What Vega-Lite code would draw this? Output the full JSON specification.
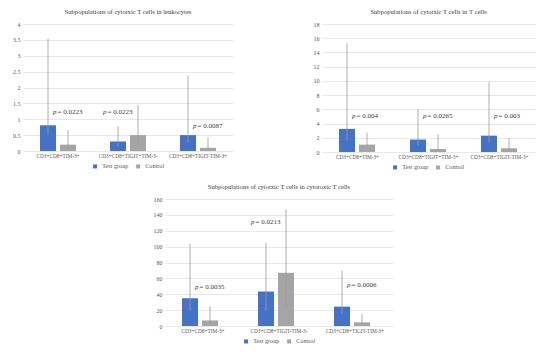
{
  "$schema": "https://vega.github.io/schema/vega-lite/v6.json",
  "padding": {"left": 12, "top": 9, "right": 5, "bottom": 5},
  "datasets": {
    "leuk": [
      {"cat": "CD3+CD8+TIM-3+", "group": "Test group", "value": 0.81, "lo": 0.5, "hi": 3.55},
      {"cat": "CD3+CD8+TIM-3+", "group": "Control", "value": 0.2, "lo": 0.08, "hi": 0.66},
      {"cat": "CD3+CD8+TIGIT+TIM-3-", "group": "Test group", "value": 0.3, "lo": 0.14, "hi": 0.78},
      {"cat": "CD3+CD8+TIGIT+TIM-3-", "group": "Control", "value": 0.5, "lo": 0.2, "hi": 1.46},
      {"cat": "CD3+CD8+TIGIT-TIM-3+", "group": "Test group", "value": 0.5, "lo": 0.26, "hi": 2.37},
      {"cat": "CD3+CD8+TIGIT-TIM-3+", "group": "Control", "value": 0.1, "lo": 0.05, "hi": 0.43}
    ],
    "leukP": [
      {"cat": "CD3+CD8+TIM-3+", "group": "Control", "py": 1.24, "p": "p", "rest": "= 0.0223"},
      {"cat": "CD3+CD8+TIGIT+TIM-3-", "group": "Test group", "py": 1.24, "p": "p", "rest": "= 0.0223"},
      {"cat": "CD3+CD8+TIGIT-TIM-3+", "group": "Control", "py": 0.78, "p": "p", "rest": "= 0.0087"}
    ],
    "tcell": [
      {"cat": "CD3+CD8+TIM-3+", "group": "Test group", "value": 3.25, "lo": 1.6, "hi": 15.3},
      {"cat": "CD3+CD8+TIM-3+", "group": "Control", "value": 1.04, "lo": 0.7, "hi": 2.7},
      {"cat": "CD3+CD8+TIGIT+TIM-3+", "group": "Test group", "value": 1.75, "lo": 0.9, "hi": 6.0},
      {"cat": "CD3+CD8+TIGIT+TIM-3+", "group": "Control", "value": 0.42, "lo": 0.2, "hi": 2.5},
      {"cat": "CD3+CD8+TIGIT-TIM-3+", "group": "Test group", "value": 2.3, "lo": 1.2, "hi": 9.8},
      {"cat": "CD3+CD8+TIGIT-TIM-3+", "group": "Control", "value": 0.52, "lo": 0.3, "hi": 2.0}
    ],
    "tcellP": [
      {"cat": "CD3+CD8+TIM-3+", "group": "Control", "py": 5.0, "p": "p", "rest": "= 0.004"},
      {"cat": "CD3+CD8+TIGIT+TIM-3+", "group": "Control", "py": 5.0, "p": "p", "rest": "= 0.0265"},
      {"cat": "CD3+CD8+TIGIT-TIM-3+", "group": "Control", "py": 5.0, "p": "p", "rest": "= 0.003"}
    ],
    "ctl": [
      {"cat": "CD3+CD8+TIM-3+", "group": "Test group", "value": 35, "lo": 19, "hi": 104},
      {"cat": "CD3+CD8+TIM-3+", "group": "Control", "value": 7, "lo": 3, "hi": 25},
      {"cat": "CD3+CD8+TIGIT-TIM-3-", "group": "Test group", "value": 43.4, "lo": 19, "hi": 105},
      {"cat": "CD3+CD8+TIGIT-TIM-3-", "group": "Control", "value": 67, "lo": 25, "hi": 147},
      {"cat": "CD3+CD8+TIGIT-TIM-3+", "group": "Test group", "value": 24.4, "lo": 15, "hi": 70},
      {"cat": "CD3+CD8+TIGIT-TIM-3+", "group": "Control", "value": 4.6, "lo": 1, "hi": 15}
    ],
    "ctlP": [
      {"cat": "CD3+CD8+TIM-3+", "group": "Control", "py": 48.7, "p": "p", "rest": "= 0.0035"},
      {"cat": "CD3+CD8+TIGIT-TIM-3-", "group": "Test group", "py": 130.6, "p": "p", "rest": "= 0.0213"},
      {"cat": "CD3+CD8+TIGIT-TIM-3+", "group": "Control", "py": 51.6, "p": "p", "rest": "= 0.0006"}
    ]
  },
  "vconcat": [
    {
      "hconcat": [
        {
          "width": 210,
          "height": 127,
          "title": "Subpopulations of cytotxic T cells in leukocytes",
          "encoding": {
            "x": {"field": "cat", "type": "nominal", "sort": null, "title": null, "scale": {"paddingInner": 0, "paddingOuter": 0}},
            "xOffset": {"field": "group", "type": "nominal", "sort": ["Test group", "Control"], "scale": {"paddingInner": 0.2, "paddingOuter": 0.85}}
          },
          "layer": [
            {
              "data": {"name": "leuk"},
              "mark": {"type": "bar"},
              "encoding": {
                "y": {"field": "value", "type": "quantitative", "title": null, "scale": {"domain": [0, 4], "nice": false}, "axis": {"values": [0, 0.5, 1, 1.5, 2, 2.5, 3, 3.5, 4], "format": "~r"}},
                "color": {"field": "group", "type": "nominal", "title": null, "scale": {"domain": ["Test group", "Control"], "range": ["#4472C4", "#A5A5A5"]}}
              }
            },
            {
              "data": {"name": "leuk"},
              "mark": {"type": "rule", "color": "#9A9A9A", "strokeWidth": 0.8},
              "encoding": {"y": {"field": "lo", "type": "quantitative", "title": null, "axis": {"values": [0, 0.5, 1, 1.5, 2, 2.5, 3, 3.5, 4], "format": "~r"}}, "y2": {"field": "hi"}}
            },
            {
              "data": {"name": "leukP"},
              "mark": {"type": "text", "align": "left", "dx": -15, "fontStyle": "italic", "fontSize": 7, "color": "#404040"},
              "encoding": {"y": {"field": "py", "type": "quantitative", "title": null, "axis": {"values": [0, 0.5, 1, 1.5, 2, 2.5, 3, 3.5, 4], "format": "~r"}}, "text": {"field": "p"}}
            },
            {
              "data": {"name": "leukP"},
              "mark": {"type": "text", "align": "left", "dx": -10.5, "fontSize": 7, "color": "#404040"},
              "encoding": {"y": {"field": "py", "type": "quantitative", "title": null, "axis": {"values": [0, 0.5, 1, 1.5, 2, 2.5, 3, 3.5, 4], "format": "~r"}}, "text": {"field": "rest"}}
            }
          ]
        },
        {
          "width": 213,
          "height": 128,
          "title": "Subpopulations of cytotxic T cells in T cells",
          "encoding": {
            "x": {"field": "cat", "type": "nominal", "sort": null, "title": null, "scale": {"paddingInner": 0, "paddingOuter": 0}},
            "xOffset": {"field": "group", "type": "nominal", "sort": ["Test group", "Control"], "scale": {"paddingInner": 0.2, "paddingOuter": 0.85}}
          },
          "layer": [
            {
              "data": {"name": "tcell"},
              "mark": {"type": "bar"},
              "encoding": {
                "y": {"field": "value", "type": "quantitative", "title": null, "scale": {"domain": [0, 18], "nice": false}, "axis": {"values": [0, 2, 4, 6, 8, 10, 12, 14, 16, 18], "format": "~r"}},
                "color": {"field": "group", "type": "nominal", "title": null, "scale": {"domain": ["Test group", "Control"], "range": ["#4472C4", "#A5A5A5"]}}
              }
            },
            {
              "data": {"name": "tcell"},
              "mark": {"type": "rule", "color": "#9A9A9A", "strokeWidth": 0.8},
              "encoding": {"y": {"field": "lo", "type": "quantitative", "title": null, "axis": {"values": [0, 2, 4, 6, 8, 10, 12, 14, 16, 18], "format": "~r"}}, "y2": {"field": "hi"}}
            },
            {
              "data": {"name": "tcellP"},
              "mark": {"type": "text", "align": "left", "dx": -15, "fontStyle": "italic", "fontSize": 7, "color": "#404040"},
              "encoding": {"y": {"field": "py", "type": "quantitative", "title": null, "axis": {"values": [0, 2, 4, 6, 8, 10, 12, 14, 16, 18], "format": "~r"}}, "text": {"field": "p"}}
            },
            {
              "data": {"name": "tcellP"},
              "mark": {"type": "text", "align": "left", "dx": -10.5, "fontSize": 7, "color": "#404040"},
              "encoding": {"y": {"field": "py", "type": "quantitative", "title": null, "axis": {"values": [0, 2, 4, 6, 8, 10, 12, 14, 16, 18], "format": "~r"}}, "text": {"field": "rest"}}
            }
          ]
        }
      ],
      "spacing": 80,
      "resolve": {"scale": {"color": "independent"}, "legend": {"color": "independent"}}
    },
    {
      "width": 228,
      "height": 127,
      "title": "Subpopulations of cytotxic T cells in cytotoxic T cells",
      "encoding": {
        "x": {"field": "cat", "type": "nominal", "sort": null, "title": null, "scale": {"paddingInner": 0, "paddingOuter": 0}},
        "xOffset": {"field": "group", "type": "nominal", "sort": ["Test group", "Control"], "scale": {"paddingInner": 0.2, "paddingOuter": 0.85}}
      },
      "layer": [
        {
          "data": {"name": "ctl"},
          "mark": {"type": "bar"},
          "encoding": {
            "y": {"field": "value", "type": "quantitative", "title": null, "scale": {"domain": [0, 160], "nice": false}, "axis": {"values": [0, 20, 40, 60, 80, 100, 120, 140, 160], "format": "~r"}},
            "color": {"field": "group", "type": "nominal", "title": null, "scale": {"domain": ["Test group", "Control"], "range": ["#4472C4", "#A5A5A5"]}}
          }
        },
        {
          "data": {"name": "ctl"},
          "mark": {"type": "rule", "color": "#9A9A9A", "strokeWidth": 0.8},
          "encoding": {"y": {"field": "lo", "type": "quantitative", "title": null, "axis": {"values": [0, 20, 40, 60, 80, 100, 120, 140, 160], "format": "~r"}}, "y2": {"field": "hi"}}
        },
        {
          "data": {"name": "ctlP"},
          "mark": {"type": "text", "align": "left", "dx": -15, "fontStyle": "italic", "fontSize": 7, "color": "#404040"},
          "encoding": {"y": {"field": "py", "type": "quantitative", "title": null, "axis": {"values": [0, 20, 40, 60, 80, 100, 120, 140, 160], "format": "~r"}}, "text": {"field": "p"}}
        },
        {
          "data": {"name": "ctlP"},
          "mark": {"type": "text", "align": "left", "dx": -10.5, "fontSize": 7, "color": "#404040"},
          "encoding": {"y": {"field": "py", "type": "quantitative", "title": null, "axis": {"values": [0, 20, 40, 60, 80, 100, 120, 140, 160], "format": "~r"}}, "text": {"field": "rest"}}
        }
      ]
    }
  ],
  "spacing": 13,
  "center": true,
  "resolve": {"scale": {"color": "independent"}, "legend": {"color": "independent"}},
  "config": {
    "font": "Liberation Serif",
    "view": {"stroke": null},
    "title": {"fontSize": 6.6, "fontWeight": "normal", "color": "#404040", "offset": 5, "anchor": "middle", "font": "Liberation Serif"},
    "axis": {"labelFontSize": 6, "labelColor": "#595959", "ticks": false, "domain": false, "labelFont": "Liberation Serif"},
    "axisY": {"gridColor": "#D9D9D9", "gridWidth": 0.6, "labelPadding": 3, "labelOverlap": false},
    "axisX": {"grid": false, "labelAngle": 0, "labelPadding": 2, "labelOverlap": false, "labelFontSize": 5.3},
    "legend": {
      "orient": "bottom",
      "direction": "horizontal",
      "symbolType": "square",
      "symbolSize": 16,
      "symbolStrokeWidth": 0,
      "labelFontSize": 6.2,
      "labelColor": "#595959",
      "labelFont": "Liberation Serif",
      "offset": 4,
      "padding": 0,
      "columnPadding": 6,
      "layout": {"bottom": {"anchor": "middle"}}
    }
  }
}
